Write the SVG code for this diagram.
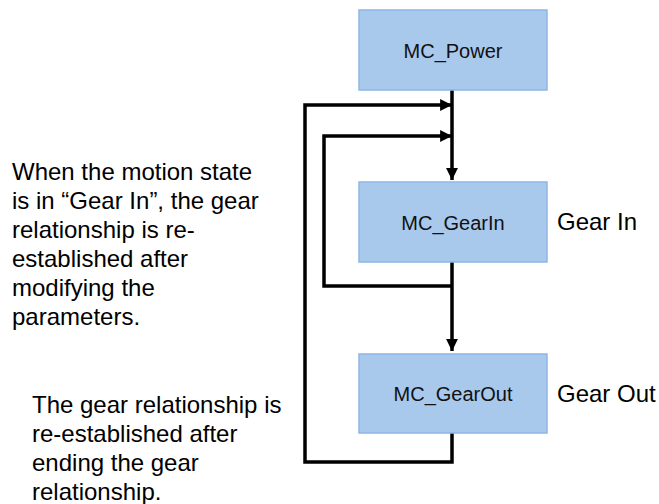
<svg xmlns="http://www.w3.org/2000/svg" width="659" height="504" viewBox="0 0 659 504">
<style>
.box{fill:#a8c8ec;stroke:#8fb6e6;stroke-width:1.5}
.lbl{font-family:"Liberation Sans",Arial,sans-serif;font-size:20px;fill:#111;text-anchor:middle}
.txt{font-family:"Liberation Sans",Arial,sans-serif;font-size:24px;fill:#000}
.ln{fill:none;stroke:#000;stroke-width:3.5}
</style>
<defs>
<marker id="ah" viewBox="0 0 10 10" refX="10" refY="5" markerWidth="3.4" markerHeight="3.4" orient="auto" markerUnits="strokeWidth">
<path d="M0,0 L10,5 L0,10 Z" fill="#000"/>
</marker>
</defs>
<rect width="659" height="504" fill="#fff"/>
<g id="connectors">
<path class="ln" d="M452,90 V180" marker-end="url(#ah)"/>
<path class="ln" d="M452,262 V351" marker-end="url(#ah)"/>
<path class="ln" d="M452,286 H324 V136 H452" marker-end="url(#ah)"/>
<path class="ln" d="M452,433 V462 H305 V105 H452" marker-end="url(#ah)"/>
</g>
<g id="mc_power">
<rect class="box" x="359" y="10" width="188" height="80"/>
<text class="lbl" x="453" y="58">MC_Power</text>
</g>
<g id="mc_gearin">
<rect class="box" x="359" y="182" width="188" height="80"/>
<text class="lbl" x="453" y="230">MC_GearIn</text>
<text class="txt" x="557" y="230">Gear In</text>
</g>
<g id="mc_gearout">
<rect class="box" x="359" y="354" width="188" height="79"/>
<text class="lbl" x="453" y="401">MC_GearOut</text>
<text class="txt" x="557" y="402">Gear Out</text>
</g>
<g id="note1">
<text class="txt" x="12">
<tspan x="12" y="180">When the motion state</tspan>
<tspan x="12" y="209">is in “Gear In”, the gear</tspan>
<tspan x="12" y="238">relationship is re-</tspan>
<tspan x="12" y="267">established after</tspan>
<tspan x="12" y="296">modifying the</tspan>
<tspan x="12" y="325">parameters.</tspan>
</text>
</g>
<g id="note2">
<text class="txt">
<tspan x="32" y="413">The gear relationship is</tspan>
<tspan x="32" y="442">re-established after</tspan>
<tspan x="32" y="471">ending the gear</tspan>
<tspan x="32" y="500">relationship.</tspan>
</text>
</g>
</svg>
